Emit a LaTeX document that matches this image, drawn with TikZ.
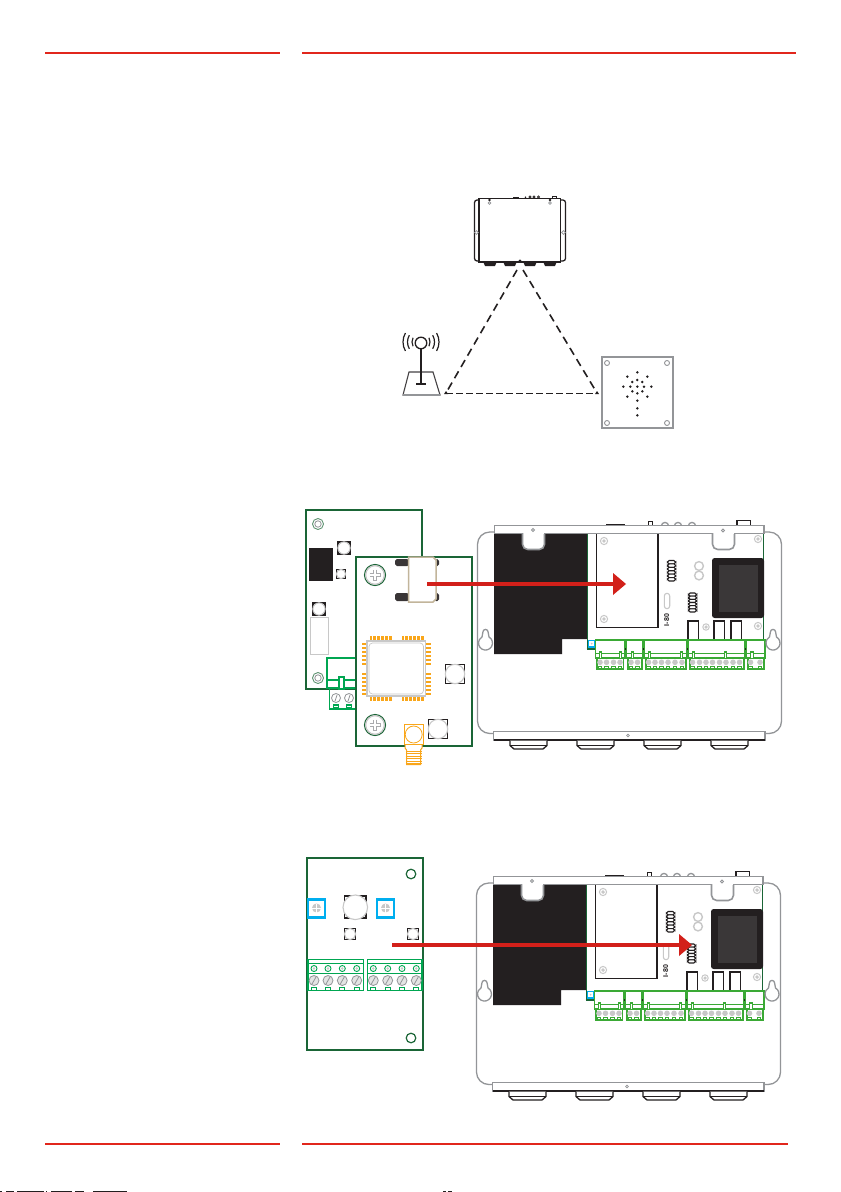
\documentclass[tikz,border=0pt]{standalone}
\usepackage{fontspec}
\setmainfont{Liberation Sans}
\definecolor{pcb}{HTML}{1A6536}
\definecolor{term}{HTML}{00A651}
\definecolor{termb}{HTML}{3AA935}
\definecolor{redline}{HTML}{E1261C}
\definecolor{redarrow}{HTML}{D2201A}
\definecolor{ink}{HTML}{231F20}
\definecolor{gr}{HTML}{939598}
\definecolor{lgr}{HTML}{C8C8C8}
\definecolor{cyanb}{HTML}{00AEEF}
\definecolor{orng}{HTML}{F9A61A}
\definecolor{beige}{HTML}{C2B59B}
\definecolor{inner}{HTML}{3A3738}
\tikzset{
  x=0.02cm,y=-0.02cm,
  px/.style={line width=#1*0.567pt},
  rule/.style={draw=redline,px=1.5},
  pcbline/.style={draw=pcb,px=1.7},
  encl/.style={draw=gr,px=1.3},
  bar/.style={draw=gr,px=1.6,fill=white},
  blk/.style={draw=ink,px=1.3},
  dashline/.style={draw=ink,px=1.6,dash pattern=on 4.5pt off 2.9pt},
  dashthin/.style={draw=ink,px=1,dash pattern=on 3.7pt off 2pt},
  flow/.style={draw=redarrow,px=3.8},
  tinyscrew/.style={draw=lgr,px=1,fill=white},
  termline/.style={draw=termb,px=1.3},
}
\newcommand{\scr}[3]{% x y r
  \draw[tinyscrew] (#1,#2) circle[radius=#3];
  \fill[lgr] (#1,#2) circle[radius=#3*0.55];}
\newcommand{\sqc}[3]{% x y half-size
  \draw[blk,fill=white] (#1-#3,#2-#3) rectangle (#1+#3,#2+#3);
  \draw[draw=lgr,px=1.1,fill=white] (#1,#2) circle[radius=#3*1.02];}
\newcommand{\coil}[3]{% x top bottom
  \foreach \k in {0,...,5}{
    \draw[draw=ink,px=1.1,fill=white,rounded corners=1] (#1-4.2,{#2+(#3-#2)*\k/6}) rectangle (#1+4.2,{#2+(#3-#2)*(\k+1)/6});}}
% one terminal block: upper x1 x2, lower x1 x2, screws list, tabs list
\newcommand{\tblock}[6]{%
  \draw[termline] (#1,640) rectangle (#2,658);
  \draw[termline] (#1,653.5) -- (#2,653.5);
  \foreach \t in {#6}{\draw[termline,fill=white] (\t-1.3,652) rectangle (\t+1.3,658.5);}
  \draw[termline] (#3,658) -- (#3,669) -- (#4,669) -- (#4,658);
  \foreach \s in {#5}{
    \fill[lgr] (\s,662.3) circle[radius=2.8];
    \draw[draw=termb,px=1] (\s-1.8,666.8) rectangle (\s+1.8,669);}}
\newcommand{\enclosure}[2]{%
\begin{scope}[shift={(#1,#2)}]
  % protrusions above the top bar
  \draw[blk,px=1.8] (606,524.5) -- (625,524.5);
  \draw[blk] (648.5,525) -- (648.5,521.5) -- (652.5,521.5) -- (652.5,525);
  \foreach \a in {665,678,692}{\draw[encl] (\a-3.6,526) arc[start angle=180,end angle=360,radius=3.6];}
  \draw[blk] (737,525) -- (737,520.5) -- (750.5,520.5) -- (750.5,525);
  % outer frame
  \draw[encl,rounded corners=7] (494,532) -- (477.5,532) -- (477.5,733.5) -- (494,733.5);
  \draw[encl,rounded corners=7] (764,532) -- (781.5,532) -- (781.5,733.5) -- (764,733.5);
  % black mass
  \fill[ink] (494,533) -- (587,533) -- (587,639) -- (562,639) -- (562,654) -- (494,654) -- cycle;
  % board edge
  \draw[draw=pcb,px=1] (587.5,533) -- (587.5,649);
  \draw[draw=pcb,px=2.2] (586.5,649) -- (596,649);
  \draw[draw=pcb,px=1.2] (763.3,533) -- (763.3,640);
  % relay box
  \draw[blk,fill=white] (596.5,533) -- (596.5,627.5) -- (658,627.5) -- (658,533);
  \scr{604}{541}{3.6}
  \scr{604}{619}{3.6}
  \scr{758}{539}{3.6}
  \scr{758}{626}{3.6}
  \scr{706}{627}{3.2}
  % components
  \coil{671.5}{560.5}{581}
  \coil{692.5}{593}{612}
  \draw[draw=lgr,px=1.1,fill=white] (664.3,596) arc[start angle=180,end angle=360,radius=2.7] -- (669.7,606) arc[start angle=0,end angle=180,radius=2.7] -- cycle;
  \node[rotate=90,font=\fontsize{4pt}{4pt}\selectfont\bfseries,inner sep=0pt,text=ink] (labv) at (666.7,620) {I-80};
  \draw[draw=lgr,px=1.4,fill=white] (699,566) circle[radius=4.4];
  \draw[draw=lgr,px=1.4,fill=white] (699,575.5) circle[radius=4.4];
  % transformer
  \fill[ink,rounded corners=1.5] (712,558) rectangle (764,618);
  \fill[inner] (719,565) rectangle (758,612);
  % relays
  \foreach \a in {688,714,731}{\draw[blk,fill=white] (\a,621) rectangle (\a+10.5,640);}
  % blue square
  \draw[draw=cyanb,px=1.3,fill=white] (588.5,640.5) rectangle (595,647);
  \fill[lgr] (591.7,643.7) circle[radius=1];
  % terminal blocks
  \tblock{595.5}{625}{597}{623.5}{600,606.5,613.5,620}{600.5,620.5}
  \tblock{626.5}{643}{628}{642}{631,637.5}{632.5}
  \tblock{644.5}{687}{646}{686}{648.5,655,661.5,668,675,682}{649.5,681.5}
  \tblock{688.5}{745}{690}{744}{692.5,699.5,706,712.5,719.5,726,733,739.5}{693.5,725.5}
  \tblock{746.5}{765}{748}{764}{750.5,760}{752}
  \foreach \a in {625.7,643.7,687.7,745.7}{\fill[ink] (\a-0.7,647.5) rectangle (\a+0.7,650);}
  % top bar
  \draw[bar] (494.5,525.5) rectangle (764,533.5);
  % notches
  \draw[bar,rounded corners=3] (522.5,533) -- (522.5,549.5) -- (544.5,549.5) -- (544.5,533);
  \draw[bar,rounded corners=3] (712.5,533) -- (712.5,549.5) -- (734.5,549.5) -- (734.5,533);
  \draw[draw=white,px=1.8] (523.5,533.5) -- (543.5,533.5) (713.5,533.5) -- (733.5,533.5);
  \draw[draw=gr,px=0.8,fill=white] (533,530) +(0,-1.5) -- +(1.5,0) -- +(0,1.5) -- +(-1.5,0) -- cycle;
  \draw[draw=gr,px=0.8,fill=white] (723,530.5) +(0,-1.5) -- +(1.5,0) -- +(0,1.5) -- +(-1.5,0) -- cycle;
  % keyholes
  \foreach \a in {485.5,773}{
    \draw[encl,fill=white] (\a-2.6,632) arc[start angle=180,end angle=360,radius=2.6] -- (\a+3.5,637) arc[start angle=-60,end angle=240,radius=7] -- cycle;}
  % bottom bar
  \draw[bar,px=1.4] (493.5,731.5) rectangle (765,740);
  \draw[blk,px=1.5] (493.5,740) -- (765,740);
  \draw[draw=gr,px=0.8,fill=white] (628,735.5) circle[radius=1.4];
  % feet
  \foreach \a in {510,577,644,711}{
    \draw[blk,fill=white] (\a,740.5) -- (\a,745.5) -- (\a+4,749) -- (\a+33,749) -- (\a+37,745.5) -- (\a+37,740.5);
    \draw[blk] (\a,745.5) -- (\a+37,745.5);}
\end{scope}}
\begin{document}
\begin{tikzpicture}
\useasboundingbox (0,0) rectangle (840,1192);
\fill[white] (0,0) rectangle (840,1192);
% page rules
\draw[rule] (45,53.2) -- (280,53.2);
\draw[rule] (302,53.2) -- (796,53.2);
\draw[rule] (45,1144) -- (280,1144);
\draw[rule] (302,1144) -- (788,1144);
% clipped remains along the bottom edge
\foreach \p/\q in {0/2,6/14,17/44,46/47,51/72,75/84,93/127,443/446,448/452}{
  \draw[draw=ink,px=1] (\p,1191.5) -- (\q,1191.5);}

% ---------- top device ----------
\node[inner sep=0pt,minimum size=0pt] (apex) at (520,262) {};
\coordinate (apexd) at (517,270);
\coordinate (apexe) at (523,270);
\coordinate (antc) at (446,393);
\coordinate (spkc) at (597,393);
\draw[blk,rounded corners=1.5] (479,200) -- (474.5,200) -- (474.5,261) -- (479,261);
\draw[blk,rounded corners=1.5] (560,200) -- (565.5,200) -- (565.5,261) -- (560,261);
\foreach \a in {484,504,524,544}{\draw[blk,fill=ink] (\a,262) -- (\a+1.5,265.5) -- (\a+10.5,265.5) -- (\a+12,262) -- cycle;}
\draw[blk,fill=white] (479,198.5) rectangle (560.5,262);
\fill[ink] (513,197) rectangle (519,198.5);
\fill[ink] (525.5,197.2) circle[radius=0.9];
\foreach \a in {530,534,538.5}{\draw[draw=ink,px=0.7] (\a,197) circle[radius=1.2];}
\draw[draw=ink,px=0.8] (552,198.5) -- (552,196) -- (556,196) -- (556,198.5);
\foreach \a in {489.5,550}{\fill[ink] (\a,200) circle[radius=1.4];\draw[draw=gr,px=0.7] (\a,203) circle[radius=1.3];}
\draw[draw=gr,px=0.8,fill=white] (476.5,232.5) circle[radius=1.9];
\draw[draw=gr,px=0.8,fill=white] (563.5,232.5) circle[radius=1.9];
\fill[ink] (520,261) circle[radius=1.7];
% dashed triangle
\draw[dashline] (apexd) -- (antc);
\draw[dashline] (apexe) -- (spkc);
\draw[dashthin] (antc) -- (spkc);
\fill[ink] (antc) +(-2,1) -- +(2,1) -- +(0,-2) -- cycle;
\fill[ink] (spkc) +(-2,1) -- +(2,1) -- +(0,-2) -- cycle;
% antenna
\draw[draw=ink!70!gr,px=1.1] (409,372) -- (433,372) -- (440,395) -- (403,395) -- cycle;
\draw[draw=gr,px=1.2] (403,395) -- (440,395);
\draw[draw=ink,px=1.3] (421,349) -- (421,384);
\draw[draw=ink,px=1.1] (416,384) -- (426,384);
\draw[draw=ink,px=1.3,fill=white] (421,343) circle[radius=5.8];
\foreach \r/\w in {9/28,13.5/30,18/30}{
  \draw[draw=ink,px=1.2] (421,342) +(180-\w:\r) arc[start angle=180-\w,end angle=180+\w,radius=\r];
  \draw[draw=ink,px=1.2] (421,342) +(-\w:\r) arc[start angle=-\w,end angle=\w,radius=\r];}
% speaker panel
\draw[draw=gr,px=1.7,fill=white] (602,357) rectangle (673,428);
\foreach \p/\q in {607/363,667/363,607/423,667/423}{\draw[draw=gr,px=0.9] (\p,\q) circle[radius=2.5];}
\foreach \p/\q in {802/577,772/590,832/590,802/600,787/606,817/606,781/620,760/620,802/620,822/620,844/620,787/634,817/634,802/640,772/650,832/650,802/662,802/685,802/706}{
  \fill[ink] ({370+\p/3},{180+\q/3}) circle[radius=1.4];}

% ---------- first module pair ----------
\draw[pcbline,fill=white] (306,510) rectangle (422,689);
\fill[ink] (309,548) rectangle (333,581);
\sqc{344}{548}{6}
\sqc{341}{574}{4.5}
\sqc{319}{609}{6}
\draw[draw=lgr,px=1] (310,617) rectangle (328.5,654);
\foreach \q in {524,678}{
  \draw[draw=pcb!70!white,px=0.9,fill=white] (318,\q) circle[radius=5.5];
  \draw[draw=gr,px=0.8] (318,\q) circle[radius=3.2];}
% connector
\draw[draw=term,px=1.1] (327,658) rectangle (356,688);
\draw[draw=term,px=1.1] (327,680) -- (356,680);
\draw[draw=term,px=1.1,fill=white] (339,677) rectangle (344,689);
\draw[draw=term,px=1.1] (329.5,688.5) rectangle (356,709);
\foreach \a in {336,349}{
  \draw[draw=gr,px=0.8] (\a,698) circle[radius=4.5];
  \draw[draw=gr,px=0.8] (\a-1,701) -- (\a+1,695);
  \draw[draw=term,px=1.1] (\a-2.5,705) rectangle (\a+2.5,708);}
% front board
\draw[pcbline,fill=white] (356,557) rectangle (472,746);
\foreach \q in {575,725}{
  \draw[draw=pcb,px=1.1,fill=white] (375,\q) circle[radius=10.5];
  \draw[draw=lgr,px=1.2] (375,\q) circle[radius=9.3];
  \draw[draw=gr!80!white,px=3.6] (375-5.5,\q) -- (375+5.5,\q) (375,\q-5.5) -- (375,\q+5.5);
  \draw[draw=white,px=2.2] (375-5,\q) -- (375+5,\q) (375,\q-5) -- (375,\q+5);}
% black tabs + beige latch
\fill[ink!90!white,rounded corners=1] (395,559) rectangle (409,566);
\fill[ink!90!white,rounded corners=1] (395,593) rectangle (409,601);
\fill[ink!90!white,rounded corners=1] (434,559) rectangle (439,566);
\fill[ink!90!white,rounded corners=1] (434,593) rectangle (439,601);
\draw[draw=beige,px=1.5,fill=white] (408.5,557) -- (433,557) -- (436,560) -- (436,599) -- (433,602) -- (408.5,602) -- cycle;
% chip
\foreach \a in {0,...,5}{
  \fill[orng] ({369.5+\a*3.95},636) rectangle ++(2.4,5);
  \fill[orng] ({401.5+\a*3.95},636) rectangle ++(2.4,5);
  \fill[orng] ({369.5+\a*3.95},696) rectangle ++(2.4,5);
  \fill[orng] ({401.5+\a*3.95},696) rectangle ++(2.4,5);
  \fill[orng] (362,{643+\a*3.95}) rectangle ++(5,2.4);
  \fill[orng] (362,{673+\a*3.95}) rectangle ++(5,2.4);
  \fill[orng] (425.5,{643+\a*3.95}) rectangle ++(5,2.4);
  \fill[orng] (425.5,{673+\a*3.95}) rectangle ++(5,2.4);}
\draw[draw=lgr,px=1.2,fill=white] (367,641) rectangle (425.5,696);
\draw[draw=lgr,px=0.7,rounded corners=2] (369,643) rectangle (423.5,694);
\sqc{455}{674}{9.5}
\sqc{438}{729}{9.5}
% SMA
\draw[draw=orng,px=1,fill=white] (405,744) -- (405,748) -- (406.5,750) -- (406.5,764.5) -- (420.5,764.5) -- (420.5,750) -- (422,748) -- (422,744);
\foreach \q in {751,753.5,756,758.5,761,763.5}{\draw[draw=orng,px=0.9] (405.5,\q) -- (421.5,\q);}
\draw[draw=orng,px=1,fill=white] (404,724.5) rectangle (423.5,744);
\draw[draw=orng,px=0.8] (413.7,734.5) circle[radius=8.5];
% main enclosure 1
\enclosure{0}{0}
% arrow 1
\coordinate (a1s) at (427,584);
\coordinate (a1e) at (613,584);
\draw[flow] (a1s) -- (a1e);
\fill[redarrow] (613,573) -- (626,584) -- (613,595) -- cycle;

% ---------- second module ----------
\draw[pcbline,fill=white] (307,858) rectangle (423,1050);
\foreach \q in {874,1038}{\draw[draw=pcb,px=1.2] (411,\q) circle[radius=4.8];}
\foreach \a in {316.5,385.5}{
  \draw[draw=cyanb,px=2.4] (\a-8.7,899.5) rectangle (\a+8.7,917.5);
  \fill[lgr] (\a,908) circle[radius=4.5];
  \draw[draw=white,px=0.5] (\a-4.5,908) -- (\a+4.5,908) (\a,903.5) -- (\a,912.5);}
\draw[blk] (344.5,896) rectangle (366,918);
\draw[draw=lgr,px=1.1,fill=white] (355.3,907.3) circle[radius=12.3];
\sqc{350}{934}{5.5}
\sqc{413}{934}{5.5}
% terminals
\foreach \xa/\xb/\list in {308/363.5/{314,328,342.3,356.7},367.5/422/{373.3,387.7,402,416.3}}{
  \draw[draw=term,px=1.1] (\xa,959.5) rectangle (\xb,990.5);
  \draw[draw=term,px=1.1] (\xa,963.5) -- (\xb,963.5) (\xa,973.5) -- (\xb,973.5);
  \foreach \s in \list{
    \draw[draw=term,px=0.9] (\s,968.5) circle[radius=3];
    \fill[lgr] (\s,968.5) circle[radius=1.4];
    \draw[draw=gr,px=0.8,fill=lgr!50!white] (\s,980.5) circle[radius=5];
    \draw[draw=gr,px=0.8] (\s-2,984) -- (\s+2,977);
    \draw[draw=term,px=0.9] (\s-2.6,987.5) rectangle (\s+2.6,990);}}
% main enclosure 2
\enclosure{-1}{351}
% arrow 2
\coordinate (a2s) at (392,945);
\coordinate (a2e) at (679,945);
\draw[flow] (a2s) -- (a2e);
\fill[redarrow] (679,934) -- (692,945) -- (679,956) -- cycle;
\end{tikzpicture}
\end{document}
